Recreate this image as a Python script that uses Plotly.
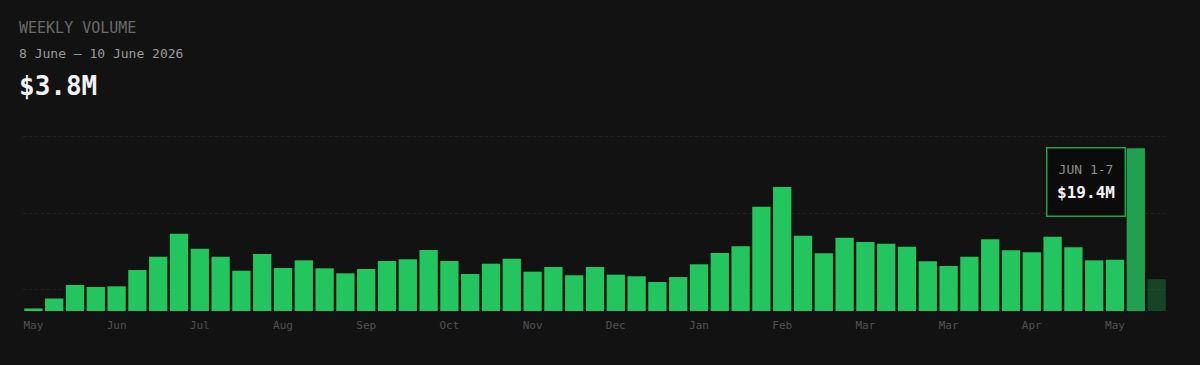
import pandas as pd
import plotly.graph_objects as go

# ---- data ----
week_starts = [d.strftime("%Y-%m-%d") for d in pd.date_range("2025-05-26", periods=55, freq="7D")]
volume_musd = [
    0.30, 1.49, 3.10, 2.86, 2.94, 4.89, 6.47, 9.22, 7.43, 6.47,
    4.80, 6.80, 5.13, 6.04, 5.09, 4.49, 5.01, 5.96, 6.16, 7.27,
    5.96, 4.41, 5.64, 6.24, 4.69, 5.25, 4.26, 5.25, 4.33, 4.14,
    3.46, 4.05, 5.57, 6.92, 7.71, 12.44, 14.78, 8.98, 6.88, 8.74,
    8.23, 8.02, 7.67, 5.93, 5.37, 6.47, 8.55, 7.24, 7.00, 8.86,
    7.60, 6.04, 6.12, 19.4, 3.8,
]
tick_labels = ["May", "Jun", "Jul", "Aug", "Sep", "Oct", "Nov", "Dec",
               "Jan", "Feb", "Mar", "Mar", "Apr", "May"]
tick_weeks = week_starts[0::4][:len(tick_labels)]
grid_values = [2.56, 11.65, 20.75]

title_text = "WEEKLY VOLUME"
range_text = "8 June \u2013 10 June 2026"
current_text = "$3.8M"
tooltip_label = "JUN 1-7"
tooltip_value = "$19.4M"

# ---- styling ----
BG = "#121212"
GREEN = "#22c55e"
HILITE = "#21a14f"
CURRENT = "rgba(34,197,94,0.28)"
MONO = "DejaVu Sans Mono, Liberation Mono, monospace"

colors = [GREEN] * len(volume_musd)
colors[-2] = HILITE
colors[-1] = CURRENT

fig = go.Figure(go.Bar(
    x=week_starts,
    y=volume_musd,
    marker=dict(color=colors, line=dict(width=0)),
    hoverinfo="skip",
))

fig.update_layout(
    width=1200, height=365,
    margin=dict(l=23, r=33, t=130, b=54),
    paper_bgcolor=BG, plot_bgcolor=BG,
    bargap=0.12,
    showlegend=False,
    font=dict(family=MONO, color="#5c5c5c"),
)
fig.update_xaxes(
    type="category",
    range=[-0.5, len(week_starts) - 0.5],
    tickmode="array", tickvals=tick_weeks, ticktext=tick_labels,
    tickfont=dict(family=MONO, size=11, color="#535353"),
    showgrid=False, zeroline=False, showline=False, ticks="",
    ticklabelstandoff=6,
)
fig.update_yaxes(
    range=[0, 21.58],
    tickmode="array", tickvals=grid_values,
    showticklabels=False,
    showgrid=True, gridcolor="#222222", gridwidth=1, griddash="3px,3px",
    zeroline=False, showline=False,
)

# header texts
fig.add_annotation(xref="paper", yref="paper", x=0, y=1, xanchor="left", yanchor="middle",
                   xshift=-6, yshift=102, showarrow=False, text=title_text,
                   font=dict(family=MONO, size=15, color="#6a6a6a"))
fig.add_annotation(xref="paper", yref="paper", x=0, y=1, xanchor="left", yanchor="middle",
                   xshift=-6, yshift=77, showarrow=False, text=range_text,
                   font=dict(family=MONO, size=13, color="#9a9a9a"))
fig.add_annotation(xref="paper", yref="paper", x=0, y=1, xanchor="left", yanchor="middle",
                   xshift=-6, yshift=44, showarrow=False, text="<b>" + current_text + "</b>",
                   font=dict(family=MONO, size=26, color="#f2f2f2"))

# tooltip box on the highlighted week
fig.add_annotation(
    x=week_starts[-2], y=volume_musd[-2], xref="x", yref="y",
    xanchor="right", yanchor="top", xshift=-10, yshift=1,
    showarrow=False,
    text=("<span style='font-size:13px;color:#8c8c8c'>" + tooltip_label + "</span><br>"
          "<span style='font-size:16px;color:#f5f5f5'><b>" + tooltip_value + "</b></span>"),
    font=dict(family=MONO, size=19, color="#f5f5f5"),
    align="center", valign="middle",
    width=77, height=67,
    bgcolor="#0b0b0b", bordercolor="#22a04e", borderwidth=1.5, borderpad=0,
)

fig.write_html("out.html")
